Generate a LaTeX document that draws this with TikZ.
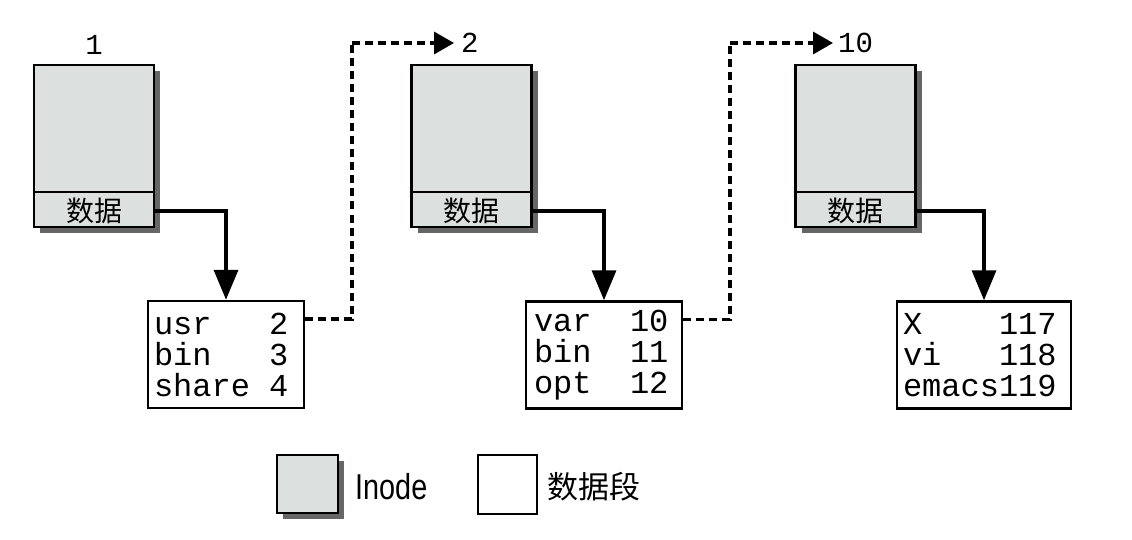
\documentclass[tikz,border=0pt]{standalone}
\usepackage{fontspec}
\usetikzlibrary{arrows.meta,shadows,calc}
\newfontfamily\cjk{Noto Sans CJK SC}
\newfontfamily\monof{Liberation Mono}
\newfontfamily\condf[FakeStretch=0.8]{Liberation Sans}
\newcommand\msp{\hphantom{0}}
\definecolor{inodegray}{HTML}{DCE0DF}
\definecolor{shadowgray}{HTML}{666666}
\tikzset{
  inodebox/.style={draw, line width=2.5pt, fill=inodegray, minimum width=120pt, minimum height=162pt, inner sep=0pt,
    drop shadow={shadow xshift=6pt, shadow yshift=-6pt, fill=shadowgray, opacity=1}},
  datarow/.style={font=\cjk\fontsize{28}{28}\selectfont, inner sep=0pt},
  databox/.style={draw, line width=2.5pt, fill=white, minimum height=107pt, inner xsep=6pt, inner ysep=0pt, align=left,
    font=\monof\fontsize{32}{31}\selectfont},
  numlabel/.style={font=\monof\fontsize{29}{29}\selectfont, inner sep=0pt},
  solidarrow/.style={line width=3.5pt, -{Triangle[length=30pt,width=24pt]}},
  dotarrow/.style={line width=3.5pt, dash pattern=on 8pt off 5pt, -{Triangle[length=20pt,width=22pt]}},
  dotline/.style={line width=3.5pt, dash pattern=on 8pt off 5pt},
}
\begin{document}
\begin{tikzpicture}[x=1pt,y=-1pt]
\useasboundingbox (0,0) rectangle (1132,540);

% inodes
\node[inodebox] (i1) at (94,146) {};
\node[inodebox] (i2) at (471.5,146) {};
\node[inodebox] (i3) at (855.5,146) {};
\foreach \n in {1,2,3}{
  \draw[line width=2pt] ($(i\n.south west)+(0,-36)$) -- ($(i\n.south east)+(0,-36)$);
}
\node[datarow] (d1) at (94,211) {数据};
\node[datarow] (d2) at (471.5,211) {数据};
\node[datarow] (d3) at (855.5,211) {数据};

% labels
\node[numlabel] (l1) at (94,45) {1};
\node[numlabel, anchor=west] (l2) at (461,43) {2};
\node[numlabel, anchor=west] (l3) at (838,43) {10};

% data boxes
\node[databox, minimum width=156pt, text width=144pt] (b1) at (226,354.5) {usr\msp\msp\msp2\\bin\msp\msp\msp3\\share\msp4};
\node[databox, minimum width=156pt, text width=140pt, inner xsep=8pt] (b2) at (604,355) {var\msp\msp10\\bin\msp\msp11\\opt\msp\msp12};
\node[databox, minimum width=174pt, text width=162pt] (b3) at (984,355) {X\msp\msp\msp\msp117\\vi\msp\msp\msp118\\emacs119};

% solid arrows
\draw[solidarrow] (i1.east |- d1) -| (b1.north);
\draw[solidarrow] (i2.east |- d2) -| (b2.north);
\draw[solidarrow] (i3.east |- d3) -| (b3.north);

% dotted arrows
\coordinate (s1) at ($(b1.north east)+(0,19)$);
\coordinate (k1) at (352,43);
\coordinate (t1) at (454,43);
\draw[dotline] (s1) -| (k1);
\draw[dotarrow] (k1) -- (t1);
\coordinate (s2) at ($(b2.north east)+(0,19)$);
\coordinate (k2) at (730,43);
\coordinate (t2) at (833,43);
\draw[dotline] (s2) -| (k2);
\draw[dotarrow] (k2) -- (t2);

% legend
\node[draw, line width=2.5pt, fill=inodegray, minimum width=61pt, minimum height=58pt, inner sep=0pt,
  drop shadow={shadow xshift=6pt, shadow yshift=-6pt, fill=shadowgray, opacity=1}] (lg1) at (307.5,484) {};
\node[font=\condf\fontsize{36}{36}\selectfont, inner sep=0pt, anchor=west] (lt1) at (355,487) {Inode};
\node[draw, line width=2.5pt, fill=white, minimum width=59pt, minimum height=59pt, inner sep=0pt] (lg2) at (507.5,484.5) {};
\node[font=\cjk\fontsize{31}{31}\selectfont, inner sep=0pt, anchor=west] (lt2) at (547,487) {数据段};
\end{tikzpicture}
\end{document}
